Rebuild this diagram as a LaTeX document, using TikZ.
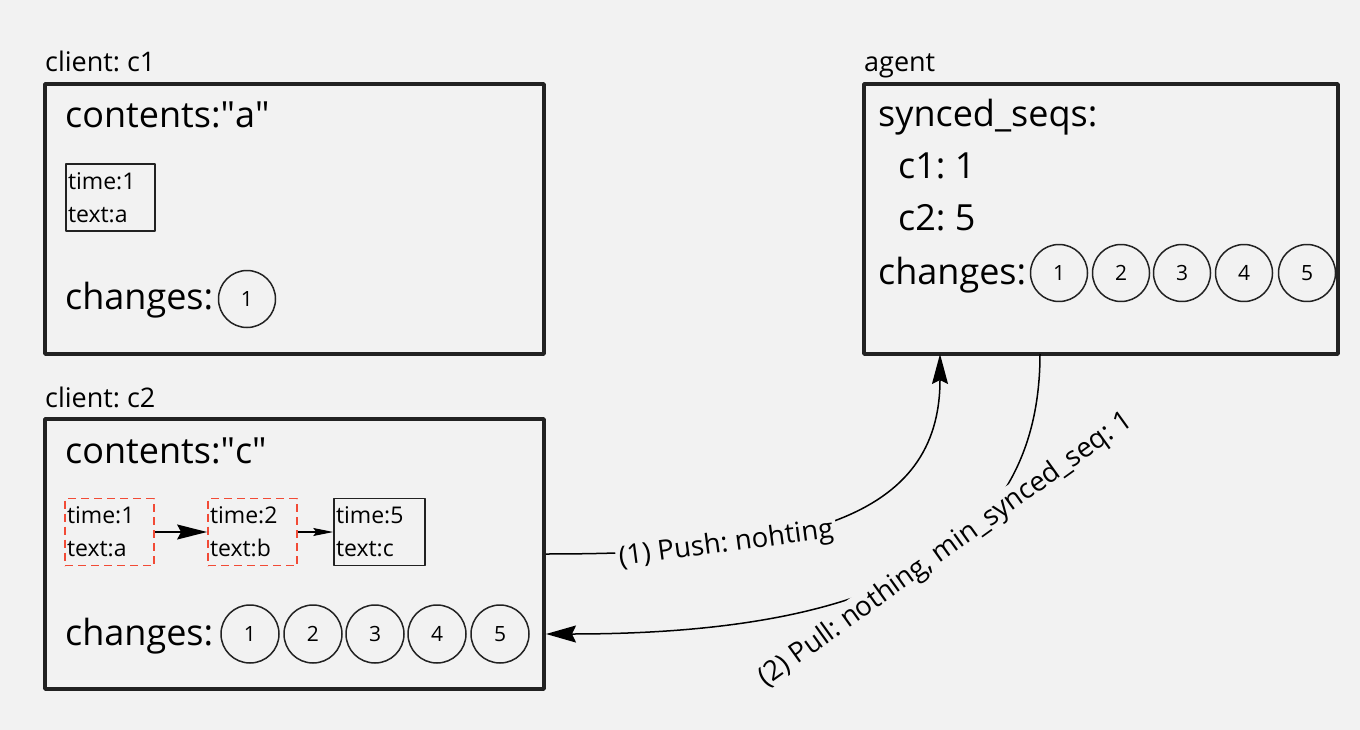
\documentclass[tikz,border=0pt]{standalone}
\usepackage{fontspec}
\setmainfont{Open Sans}
\usetikzlibrary{arrows.meta}
\definecolor{bgcol}{HTML}{F2F2F2}
\definecolor{ink}{HTML}{222222}
\definecolor{dashred}{HTML}{F24B36}
\frenchspacing

\begin{document}
\begin{tikzpicture}[x=1pt, y=-1pt, line join=round,
    panel/.style={draw=ink, line width=3.5pt, minimum width=499pt, minimum height=270pt, inner sep=0pt},
    title/.style={anchor=base west, inner sep=0pt, font=\fontsize{27}{30}\selectfont},
    big/.style={anchor=base west, inner sep=0pt, font=\fontsize{36}{40}\selectfont},
    rec/.style={draw=ink, line width=1.5pt, text width=85pt, minimum height=67pt, inner sep=2pt, align=left, font=\fontsize{23}{33}\selectfont},
    oldrec/.style={rec, draw=dashred, line width=1.8pt, dash pattern=on 8pt off 5pt},
    chg/.style={circle, draw=ink, line width=1.5pt, minimum size=57pt, inner sep=0pt, font=\fontsize{21}{24}\selectfont},
    msg/.style={sloped, fill=bgcol, inner sep=3pt, font=\fontsize{27.5}{30}\selectfont}]
                \fill[bgcol] (0,0) rectangle (1360,730);
                % client c1
                \node[panel] (c1) at (294.5,219) {};
                \node[title] (c1title) at (45,72) {client: c1};
                \node[big] (c1text) at (65,128) {contents:\textquotedbl a\textquotedbl};
                \node[rec] (c1r1) at (110.5,197.5) {time:1\\text:a};
                \node[big] (c1chg) at (65,309) {changes:};
                \node[chg] (c1n1) at (247,299) {1};
                % client c2
                \node[panel] (c2) at (294.5,554) {};
                \node[title] (c2title) at (45,407) {client: c2};
                \node[big] (c2text) at (65,463) {contents:\textquotedbl c\textquotedbl};
                \node[oldrec] (c2r1) at (109.5,532) {time:1\\text:a};
                \node[oldrec] (c2r2) at (252.5,532) {time:2\\text:b};
                \node[rec, text width=87pt] (c2r3) at (379.5,532) {time:5\\text:c};
                \draw[-{Stealth[length=30pt, width=15pt, inset=4pt]}, line width=1.5pt] (c2r1) -- (c2r2);
                \draw[-{Stealth[length=20pt, width=8pt, inset=3pt]}, line width=1.2pt] (c2r2) -- (c2r3);
                \node[big] (c2chg) at (65,645) {changes:};
                \node[chg, minimum size=58pt] (c2n1) at (250,634) {1};
                \node[chg, minimum size=58pt] (c2n2) at (313,634) {2};
                \node[chg, minimum size=58pt] (c2n3) at (375,634) {3};
                \node[chg, minimum size=58pt] (c2n4) at (437,634) {4};
                \node[chg, minimum size=58pt] (c2n5) at (500,634) {5};
                % agent
                \node[panel, minimum width=474pt] (agent) at (1101,219) {};
                \node[title] (agtitle) at (864,72) {agent};
                \node[big] (agseqs) at (878,127) {synced\_seqs:};
                \node[big] (agc1) at (898,179) {c1: 1};
                \node[big] (agc2) at (898,231) {c2: 5};
                \node[big] (agchg) at (878,284) {changes:};
                \node[chg] (agn1) at (1059,273) {1};
                \node[chg] (agn2) at (1121,273) {2};
                \node[chg] (agn3) at (1182,273) {3};
                \node[chg] (agn4) at (1244,273) {4};
                \node[chg] (agn5) at (1307,273) {5};
                % messages
                \coordinate (pushend) at (940,354);
                \coordinate (pullstart) at (1040,354);
                \coordinate (pullend) at (546,634);
                \draw[-{Stealth[length=30pt, width=16pt, inset=4pt]}, line width=1.5pt] (c2.east) .. controls (800,554) and (940,520) .. (pushend)
                    node[msg, pos=0.27] {(1) Push: nohting};
                \draw[-{Stealth[length=30pt, width=17pt, inset=4pt]}, line width=1.5pt] (pullstart) .. controls (1040,550) and (880,634) .. (pullend)
                    node[msg, pos=0.44] {(2) Pull: nothing, min\_synced\_seq: 1};
                \end{tikzpicture}
\end{document}
